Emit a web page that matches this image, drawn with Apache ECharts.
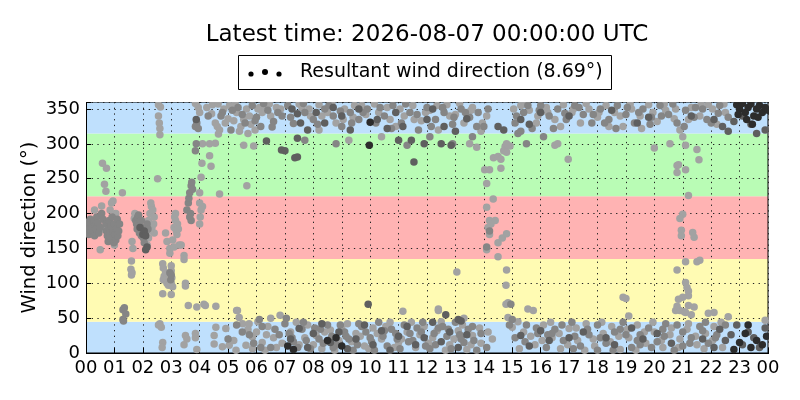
<!DOCTYPE html>
<html><head><meta charset="utf-8">
<script src="https://cdn.jsdelivr.net/npm/echarts@6/dist/echarts.min.js"></script>
<style>html,body{margin:0;padding:0;background:#fff}#c{width:800px;height:400px}</style>
</head><body><div id="c"></div>
<script>
const titleText = 'Latest time: 2026-08-07 00:00:00 UTC';
const legendText = 'Resultant wind direction (8.69°)';
const yName = 'Wind direction (°)';
const yTicks = [0, 50, 100, 150, 200, 250, 300, 350];
const hourLabels = ['00','01','02','03','04','05','06','07','08','09','10','11','12','13','14','15','16','17','18','19','20','21','22','23','00'];
// sector bands: [from, to, colour]
const bands = [[0,45,'#bfe0fd'],[45,135,'#fffbb3'],[135,225,'#ffb3b3'],[225,315,'#b9fcb5'],[315,360,'#bfe0fd']];

// [hour, direction] grouped by shade
const lightPts = [
[0.3,205],[0.5,148],[0.55,211],[0.58,272],[0.72,265],[0.65,242],[0.7,232],[0.85,205],[0.95,218],[1.0,155],[1.05,200],[1.28,230],[0.9,215],[0.62,178],
[1.6,132],[1.58,120],[1.62,115],[1.6,112],[1.65,150],[1.62,160],[1.7,193],[1.72,200],
[2.2,190],[2.25,200],[2.3,210],[2.35,205],[2.4,195],[2.28,215],[2.32,180],[2.38,185],[2.4,172],[2.25,175],[2.2,165],[2.15,155],
[2.55,356],[2.62,353],[2.55,340],[2.58,330],[2.6,322],[2.6,313],[2.52,250],[2.6,42],[2.65,37],[2.55,40],[2.7,15],[2.68,8],
[2.7,85],[2.75,110],[2.8,115],[2.72,105],[2.85,100],[2.9,97],[2.7,128],[2.72,122],[2.8,172],[2.85,160],[2.95,150],[2.95,143],[3.0,125],[3.0,118],[3.02,108],[3.0,100],[3.05,95],[3.0,84],[3.05,162],[3.1,152],
[3.12,195],[3.15,190],[3.1,180],[3.18,175],[3.2,170],[3.15,200],[3.22,185],[3.25,178],[3.28,155],[3.35,155],[3.45,140],[3.45,134],[3.5,96],[3.5,100],
[4.0,185],[4.02,195],[4.05,205],[4.1,210],[4.0,230],[4.05,252],[4.08,272],[4.1,300],[4.0,345],[3.95,352],[3.85,358],[4.0,215],
[3.6,68],[3.9,66],[4.15,70],[3.5,25],[3.55,20],[3.85,22],[3.85,28],[3.45,12],[3.9,5],
[4.25,352],[4.42,343],[4.55,330],[4.62,325],[4.7,320],[4.66,314],[4.9,330],[5.0,336],[4.35,300],[4.55,301],[4.35,283],[4.4,268],[4.7,228],[5.66,240],[4.45,356],[4.65,357],[4.85,350],[5.05,355],[5.2,333],[5.3,345],[5.45,325],[5.55,335],[5.65,350],[5.75,340],[5.8,328],[5.55,298],[5.9,297],[6.1,352],[6.3,355],[6.5,340],[6.7,352],[6.85,350],[5.4,318],[5.95,320],[6.2,345],
[4.57,37],[4.51,25],[4.92,35],[5.33,61],[5.39,51],[5.51,42],[5.74,42],[5.86,23],[4.51,13],[4.8,9],[5.04,11],[5.28,4],[5.63,11],[5.86,6],[4.57,67],[4.2,68],[5.3,61],[6.0,30],[6.2,15],[6.4,38],[6.6,22],[6.83,54],[6.7,8],[6.3,4],[6.05,45],[6.5,50],
[7.2,30],[7.5,12],[7.8,40],[8.1,25],[8.3,6],[8.6,33],[8.9,18],[9.2,42],[9.5,28],[9.8,10],[10.1,36],[10.4,20],[10.7,44],[11.0,15],[11.15,60],[11.3,30],[11.6,8],[11.9,38],[12.2,22],[12.4,61],[12.5,45],[12.8,12],[13.1,32],[13.4,5],[13.6,25],[13.9,14],[14.3,20],[13.3,50],[13.05,116],[12.4,63],
[7.6,352],[7.9,340],[8.2,356],[8.5,345],[8.8,330],[9.1,350],[9.4,338],[9.7,355],[10.3,345],[10.6,352],[10.9,325],[11.2,340],[11.5,355],[11.8,333],[12.1,348],[12.4,320],[12.7,356],[13.0,342],[13.3,330],[13.6,352],[13.9,318],[14.1,340],[8.2,320],[9.25,305],[10.4,310],[13.5,300],[13.75,295],
[14.03,263],[14.2,263],[14.1,243],[14.33,221],[14.1,209],[14.2,190],[14.15,180],[14.2,170],[14.25,185],[14.4,190],[14.5,158],[14.65,165],[14.8,171],[14.1,148],[14.5,138],[14.6,265],[14.34,280],[14.5,282],[14.7,290],[14.75,296],[14.8,300],[14.8,119],[14.78,97],[14.78,70],[14.85,72],[15.55,63],[14.85,51],[15.0,37],[14.6,278],[14.92,297],[14.8,288],
[15.3,355],[15.6,348],[15.9,340],[16.2,352],[16.5,335],[16.8,356],[17.1,345],[17.4,330],[17.7,350],[18.0,338],[18.3,355],[18.6,345],[18.9,325],[19.2,350],[19.5,340],[19.8,356],[20.1,332],[20.4,348],[20.7,336],[20.9,320],[21.0,310],[21.3,352],[21.6,340],[21.9,356],[22.2,328],[22.5,345],[16.5,298],[16.6,300],[16.97,278],[20.0,294],[20.55,300],[21.1,298],[21.5,292],[21.57,277],[20.8,269],[20.85,270],[21.1,263],[20.8,259],[21.2,226],[21.0,199],[20.9,193],[20.95,176],[20.95,168],[21.35,173],[21.4,166],[21.1,131],[21.5,131],[21.6,133],[20.8,119],[21.1,101],[21.15,94],[21.2,89],[21.2,82],[20.85,77],[21.2,68],[21.4,66],[20.75,61],[20.9,61],[22.1,58],[21.3,55],[18.9,80],[19.0,78],[21.9,57],[22.6,52],[20.8,67],[21.0,80],[21.05,59],[21.1,58],
[15.4,30],[15.8,12],[16.1,40],[16.4,22],[16.7,6],[17.0,35],[17.3,18],[17.6,42],[17.9,10],[18.2,28],[18.5,38],[18.8,5],[19.1,22],[19.4,40],[19.7,14],[20.0,30],[20.3,8],[20.6,36],[20.9,20],[21.2,42],[21.5,12],[21.8,28],[22.1,38],[22.4,8],[15.74,61],[15.2,45],[23.9,47],[19.1,53],
[5.2,18],[5.7,34],[6.35,26],[6.9,14],[7.4,44],[7.7,22],[8.0,12],[8.4,30],[8.75,4],[9.0,36],[9.35,16],[9.65,24],[9.95,6],[10.25,28],[10.55,38],[10.85,8],[11.1,20],[11.45,44],[11.75,26],[12.05,14],[12.35,32],[12.65,4],[12.95,20],[13.25,40],[13.55,12],[13.85,36],[14.15,30],[15.25,6],[15.65,24],[16.05,18],[16.35,44],[16.65,28],[16.95,12],[17.25,36],[17.55,4],[17.85,20],[18.15,44],[18.45,16],[18.75,24],[19.05,34],[19.35,4],[19.65,30],[19.95,44],[20.25,18],[20.55,26],[20.85,8],[21.15,34],[21.45,24],[21.75,6],[22.05,18],[22.35,44],
[5.25,357],[5.7,315],[6.05,350],[6.45,357],[7.5,357],[7.85,350],[8.3,340],[8.65,358],[9.05,335],[9.45,355],[9.85,342],[10.15,357],[10.7,335],[11.05,350],[11.55,335],[11.95,345],[12.35,355],[12.8,340],[13.15,358],[13.55,348],[13.95,330],[15.05,350],[15.45,357],[15.85,330],[16.25,345],[16.7,325],[17.15,350],[17.6,358],[18.05,345],[18.4,325],[18.8,340],[19.15,357],[19.55,322],[19.95,345],[20.35,357],[20.75,350],[21.2,335],[21.65,357],[22.05,350],[22.45,357]
];
const midPts = [
[0.02,182],[0.05,175],[0.08,188],[0.1,170],[0.12,178],[0.15,192],[0.18,185],[0.2,172],[0.22,180],[0.25,176],[0.28,190],[0.3,168],[0.32,183],[0.35,178],[0.38,195],[0.42,186],[0.45,172],[0.5,180],[0.55,200],[0.6,192],[0.7,185],[0.72,175],[0.75,168],[0.78,160],[0.8,178],[0.82,190],[0.85,172],[0.88,182],[0.9,165],[0.92,195],[0.95,175],[0.98,158],[1.0,185],[1.02,170],[1.05,162],[1.08,178],[1.1,192],[1.12,168],[1.15,175],[1.18,185],
[1.3,62],[1.35,65],[1.4,56],[1.3,48],[1.32,46],
[1.75,190],[1.78,185],[1.8,178],[1.82,195],[1.85,182],[1.88,172],[1.92,176],[1.95,168],[1.98,180],[2.02,165],[2.05,158],[2.08,170],[2.12,176],[2.15,185],[2.18,178],[1.85,198],[1.95,190],
[2.95,115],[2.98,105],[3.0,112],
[3.55,205],[3.6,215],[3.62,222],[3.65,230],[3.7,240],[3.72,245],[3.75,235],[3.68,200],[3.7,190],[3.65,195],[3.85,290],[3.88,300],[3.85,325],[3.9,330],[3.95,322],
[4.3,340],[4.8,345],[5.1,320],[5.35,352],[5.6,330],[5.85,355],[6.0,338],[6.15,325],[6.4,348],[6.6,332],[6.9,340],[7.1,355],[7.3,329],[7.7,345],[8.0,335],[8.4,350],[8.7,340],[9.0,325],[9.3,345],[9.6,335],[9.9,350],[10.2,330],[10.5,340],[10.8,355],[11.1,330],[11.4,345],[11.7,320],[12.0,352],[12.3,335],[12.6,345],[12.9,328],[13.2,350],[13.5,338],[13.8,345],[14.0,325],[7.7,305],[8.8,300],[11.3,298],[12.1,310],[12.9,300],[13.6,310],
[5.0,20],[5.5,30],[5.9,14],[6.2,38],[6.5,8],[6.8,26],[7.0,42],[7.3,16],[7.6,34],[7.9,6],[8.2,20],[8.5,40],[8.8,12],[9.1,30],[9.4,4],[9.7,38],[10.0,22],[10.3,44],[10.6,10],[10.9,28],[11.2,40],[11.5,18],[11.8,30],[12.1,6],[12.4,36],[12.7,24],[13.0,44],[13.3,15],[13.6,38],[13.9,28],[14.1,8],[6.1,48],[7.05,50],
[15.1,330],[15.4,345],[15.7,322],[16.0,355],[16.3,340],[16.6,350],[16.9,335],[17.2,355],[17.5,342],[17.8,330],[18.1,350],[18.4,335],[18.7,355],[19.0,342],[19.3,330],[19.6,350],[19.9,338],[20.2,355],[20.5,342],[20.8,330],[21.1,348],[21.4,338],[21.7,350],[22.0,330],[22.3,355],[22.6,338],[15.2,315],[15.3,318],[15.5,300],[16.1,310],
[15.1,22],[15.5,40],[15.9,28],[16.2,8],[16.5,34],[16.8,18],[17.1,44],[17.4,10],[17.7,26],[18.0,40],[18.3,14],[18.6,30],[18.9,44],[19.2,8],[19.5,26],[19.8,36],[20.1,16],[20.4,42],[20.7,4],[21.0,30],[21.3,22],[21.6,38],[21.9,14],[22.2,26],[22.5,40],[15.0,48],
[14.2,175],[14.1,152],[14.9,40],[14.95,70],
[7.15,28],[7.45,8],[7.75,18],[8.05,36],[8.35,14],[8.65,24],[8.95,40],[9.25,20],[9.55,12],[9.85,30],[10.15,4],[10.45,24],[10.75,34],[11.05,6],[11.35,16],[11.65,36],[11.95,10],[12.25,28],[12.55,38],[12.85,6],[13.15,26],[13.45,34],[13.75,4],[16.4,28],[17.2,24],[18.0,4],[18.8,34],[19.5,12],[20.3,34],[21.0,10],[21.8,44],
[4.75,340],[5.15,348],[5.5,342],[5.95,333],[6.25,358],[6.55,324],[6.75,345],[7.2,338],[7.65,358],[8.15,328],[8.55,355],[8.95,347],[9.35,330],[9.75,345],[10.35,352],[10.75,322],[11.25,357],[11.65,342],[12.15,325],[12.55,352],[12.95,338],[13.35,345],[13.75,325],[14.15,350],
[15.15,340],[15.55,355],[15.95,348],[16.45,322],[16.85,344],[17.35,352],[17.85,342],[18.25,330],[18.65,322],[19.05,352],[19.45,345],[19.85,328],[20.25,340],[20.65,357],[21.05,325],[21.45,352],[21.85,335],[22.25,344],
[5.3,40],[5.75,26],[6.15,8],[6.65,34],[7.25,22],[7.65,44],[8.25,34],[8.7,8],[9.15,24],[9.6,42],[10.05,16],[10.5,32],[10.95,20],[11.4,28],[11.85,44],[12.3,12],[12.75,34],[13.2,20],[13.65,18],[15.45,16],[15.85,36],[16.25,26],[16.75,40],[17.15,6],[17.65,34],[18.1,22],[18.55,4],[19.0,26],[19.4,18],[19.9,8],[20.35,24],[20.8,40],[21.25,14],[21.7,32],[22.15,22]
];
const darkPts = [
[1.9,180],[2.0,170],[2.05,175],[2.1,168],[2.15,152],[2.1,148],[3.88,335],
[6.35,304],[6.88,291],[7.35,280],[7.0,290],[7.44,343],[7.44,308],[7.44,281],[7.25,350],[7.55,330],[7.8,320],[8.1,345],[8.4,330],[8.7,352],[9.0,340],[9.3,320],[9.6,350],[10.25,335],[10.6,322],[10.9,345],[11.0,305],[11.15,325],[11.45,305],[11.54,274],[11.9,300],[12.0,335],[12.2,350],[12.5,300],[12.6,325],[12.85,298],[13.0,318],[13.4,336],[14.5,325],[14.7,320],[15.3,335],[15.6,328],[16.0,345],[17.0,340],[18.5,348],[19.4,330],[19.8,338],[22.1,335],[22.4,325],[22.6,318],[22.8,332],[23.1,340],[23.4,328],[23.6,315],[23.9,320],[21.3,340],
[7.2,20],[7.5,35],[7.8,8],[8.0,28],[8.3,42],[8.6,15],[8.9,30],[9.2,6],[9.5,20],[9.8,40],[10.1,12],[10.4,32],[10.7,4],[11.0,24],[11.3,38],[11.6,12],[11.9,22],[12.2,44],[12.5,16],[12.8,30],[13.1,8],[13.4,26],[9.93,70],[12.66,55],[13.1,48],[13.2,46],[15.3,25],[15.6,10],[16.0,32],[16.3,18],[17.0,22],[17.5,30],[18.3,22],[18.6,12],[19.2,36],[19.6,20],[20.1,28],[20.6,14],[21.7,20],[22.1,8],[22.3,34],[22.5,18],[22.7,26],[22.9,40],[23.1,12],[23.3,30],[23.5,22],[23.7,8],[23.9,36]
];
const blackPts = [
[22.9,356],[23.0,350],[23.1,358],[23.2,345],[23.3,352],[23.4,357],[23.5,340],[23.6,350],[23.7,355],[23.8,345],[23.9,352],[24.0,348],[23.25,335],[23.45,328],[23.65,338],[22.95,342],
[9.97,298],[10.0,331],
[7.1,10],[7.3,5],[8.5,18],[8.8,22],[9.0,10],[22.8,5],[23.0,15],[23.2,28],[23.4,8],[23.6,18],[23.8,12],[23.95,24],[23.3,40]
];

const shades = [['#a2a2a2', lightPts], ['#858585', midPts], ['#5f5f5f', darkPts], ['#2c2c2c', blackPts]];

const chart = echarts.init(document.getElementById('c'), null, {renderer: 'canvas'});
const FONT = 'DejaVu Sans';
const series = [{
  type: 'custom', z: -1, silent: true,
  data: bands,
  renderItem: function (params, api) {
    const p1 = api.coord([0, api.value(1)]);
    const p2 = api.coord([24, api.value(0)]);
    return {type: 'rect', shape: {x: p1[0], y: p1[1], width: p2[0] - p1[0], height: p2[1] - p1[1]},
      style: {fill: bands[params.dataIndex][2]}};
  },
  encode: {x: -1, y: [0, 1]}
}];
shades.forEach(function (s) {
  series.push({type: 'scatter', data: s[1], symbolSize: 7.5, itemStyle: {color: s[0], opacity: 1}, silent: true, clip: true});
});

const tickStyle = {show: true, inside: true, length: 5, lineStyle: {color: '#000', width: 1}};
const gridLine = {show: true, lineStyle: {color: '#222', type: [1.3, 4.4], width: 1}};
const mask = {fill: '#fff'};
chart.setOption({
  animation: false,
  grid: {left: 86, right: 32, top: 102, bottom: 47, show: true, borderColor: '#000', borderWidth: 1, backgroundColor: 'transparent'},
  xAxis: [{
    type: 'value', min: 0, max: 24, interval: 1,
    axisLine: {show: true, lineStyle: {color: '#000'}},
    axisTick: tickStyle,
    axisLabel: {color: '#000', fontFamily: FONT, fontSize: 18, margin: 6, formatter: function (v) { return hourLabels[Math.round(v)]; }},
    splitLine: gridLine
  }, {
    type: 'value', min: 0, max: 24, interval: 1, position: 'top',
    axisLine: {show: true, lineStyle: {color: '#000'}}, axisTick: tickStyle, axisLabel: {show: false}, splitLine: {show: false}
  }],
  yAxis: [{
    type: 'value', min: 0, max: 360, interval: 50,
    name: yName, nameLocation: 'middle', nameGap: 46, nameMoveOverlap: false,
    nameTextStyle: {color: '#000', fontFamily: FONT, fontSize: 19.5},
    axisLine: {show: true, lineStyle: {color: '#000'}},
    axisTick: tickStyle,
    axisLabel: {color: '#000', fontFamily: FONT, fontSize: 18, margin: 6,
      formatter: function (v) { return yTicks.indexOf(v) >= 0 ? String(v) : ''; }},
    splitLine: gridLine
  }, {
    type: 'value', min: 0, max: 360, interval: 50, position: 'right',
    axisLine: {show: true, lineStyle: {color: '#000'}}, axisTick: tickStyle, axisLabel: {show: false}, splitLine: {show: false}
  }],
  series: series,
  graphic: [
    {type: 'rect', z: 50, silent: true, shape: {x: 80, y: 90, width: 700, height: 12}, style: mask},
    {type: 'rect', z: 50, silent: true, shape: {x: 80, y: 354, width: 700, height: 4}, style: mask},
    {type: 'rect', z: 50, silent: true, shape: {x: 81, y: 90, width: 5, height: 268}, style: mask},
    {type: 'rect', z: 50, silent: true, shape: {x: 769, y: 90, width: 12, height: 268}, style: mask},
    {type: 'text', x: 427, y: 35, style: {text: titleText, fontFamily: FONT, fontSize: 23, fill: '#000', textAlign: 'center', textVerticalAlign: 'middle'}},
    {type: 'rect', shape: {x: 238.5, y: 55.5, width: 373, height: 34}, style: {fill: '#fff', stroke: '#000', lineWidth: 1}},
    {type: 'circle', shape: {cx: 251, cy: 74, r: 2.6}, style: {fill: '#000'}},
    {type: 'circle', shape: {cx: 265, cy: 72, r: 3}, style: {fill: '#000'}},
    {type: 'circle', shape: {cx: 279, cy: 74, r: 2.6}, style: {fill: '#000'}},
    {type: 'text', x: 300, y: 72, style: {text: legendText, fontFamily: FONT, fontSize: 19, fill: '#000', textVerticalAlign: 'middle'}}
  ]
});
</script></body></html>
